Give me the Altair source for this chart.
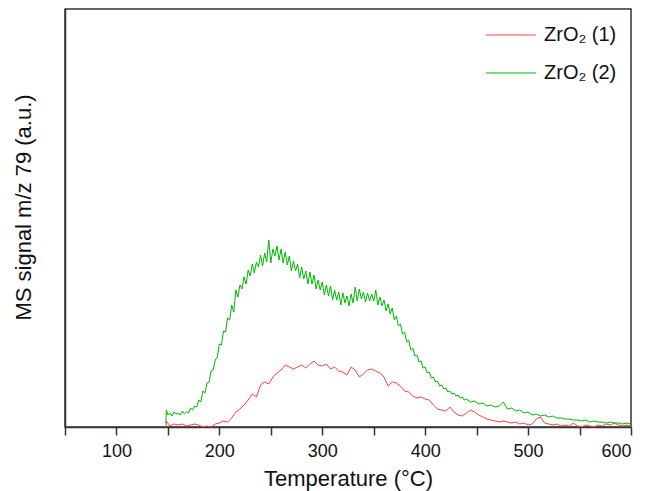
import altair as alt
import pandas as pd

# Temperature (°C) and MS signal (a.u.)
temp_green = [148, 148.5, 150, 152, 154, 156, 158, 160, 162, 164, 166, 168, 170, 172, 174, 176, 178, 180,
              182, 184, 186, 188, 190, 192, 194, 196, 198, 200, 202, 204, 206, 208, 210, 212, 214,
              216, 218, 220, 222, 224, 226, 228, 230, 232, 234, 236, 238, 240, 242, 244, 246, 248,
              250, 252, 254, 256, 258, 260, 262, 264, 266, 268, 270, 272, 274, 276, 278, 280, 282,
              284, 286, 288, 290, 292, 294, 296, 298, 300, 302, 304, 306, 308, 310, 312, 314, 316,
              318, 320, 322, 324, 326, 328, 330, 332, 334, 336, 338, 340, 342, 344, 346, 348, 350,
              352, 354, 356, 358, 360, 362, 364, 366, 368, 370, 372, 374, 376, 378, 380, 382, 384,
              386, 388, 390, 392, 394, 396, 398, 400, 402, 404, 406, 408, 410, 412, 414, 416, 418,
              420, 422, 424, 426, 428, 430, 432, 434, 436, 438, 440, 444, 448, 452, 456, 460, 464,
              468, 472, 476, 480, 484, 488, 492, 496, 500, 504, 508, 512, 516, 520, 524, 528, 532,
              536, 540, 544, 548, 552, 556, 560, 564, 568, 572, 576, 580, 584, 588, 592, 596, 600]
signal_green = [4, 17, 12, 14, 11, 15, 13, 14, 12, 16, 13, 15, 14, 19, 17, 21, 20, 27,
                25, 36, 34, 44, 45, 56, 57, 67, 70, 83, 82, 96, 95, 109, 107, 122, 115,
                137, 130, 142, 138, 150, 143, 157, 151, 163, 154, 165, 160, 172, 161, 174, 165, 187,
                164, 178, 171, 181, 167, 178, 164, 175, 162, 171, 156, 166, 156, 163, 149, 160, 148,
                156, 143, 155, 143, 152, 138, 147, 137, 145, 132, 142, 131, 141, 127, 137, 127, 135,
                122, 134, 124, 131, 121, 133, 124, 140, 126, 138, 128, 135, 125, 134, 126, 133, 126,
                137, 122, 130, 121, 127, 116, 123, 113, 119, 107, 111, 101, 103, 93, 95, 85, 87,
                77, 79, 71, 72, 65, 66, 59, 60, 54, 55, 49, 50, 45, 46, 41, 42, 38,
                39, 35, 36, 33, 34, 31, 32, 29, 30, 27, 28, 25, 26, 23, 24, 21, 22,
                20, 21, 25, 18, 19, 16, 17, 14, 15, 12, 13, 11, 12, 10, 11, 9, 9,
                8, 8, 7, 7, 6, 7, 5, 6, 5, 5, 4, 5, 4, 4, 3, 4, 3]

temp_red = [148, 148.5, 152, 156, 160, 164, 168, 172, 176, 180, 184, 188, 192, 196, 200, 204, 208, 212,
            216, 220, 224, 228, 232, 236, 240, 244, 248, 252, 256, 260, 264, 268, 272, 276, 280,
            284, 288, 292, 296, 300, 304, 308, 312, 316, 320, 324, 328, 332, 336, 340, 344, 348,
            352, 356, 360, 364, 368, 372, 376, 380, 384, 388, 392, 396, 400, 404, 408, 412, 416,
            420, 424, 428, 432, 436, 440, 444, 448, 452, 456, 460, 464, 468, 472, 476, 480, 484,
            488, 492, 496, 500, 504, 508, 512, 516, 520, 524, 528, 532, 536, 540, 544, 548, 552,
            556, 560, 564, 568, 572, 576, 580, 584, 588, 592, 596, 600]
signal_red = [0, 6, 1, 3, 2, 3, 1, 2, 3, 2, 0, 1, 0, 3, 4, 6, 5, 9,
              15, 18, 22, 27, 33, 30, 42, 45, 43, 50, 54, 57, 62, 60, 58, 60, 62,
              59, 63, 66, 62, 61, 63, 58, 60, 56, 55, 52, 60, 57, 50, 53, 57, 58,
              56, 54, 50, 41, 45, 44, 41, 36, 35, 31, 29, 30, 28, 27, 22, 18, 17,
              16, 20, 15, 12, 11, 14, 17, 15, 12, 10, 8, 7, 6, 5, 6, 5, 4,
              5, 3, 4, 2, 3, 8, 10, 4, 3, 2, 3, 1, 2, 1, 4, 1, 0,
              2, 1, 0, 2, 1, 3, 2, 4, 2, 1, 2, 1]

series_names = ["ZrO₂ (1)", "ZrO₂ (2)"]
series_colors = ["#ff4040", "#00b800"]

df = pd.concat([
    pd.DataFrame({"T": temp_red, "S": signal_red, "series": series_names[0]}),
    pd.DataFrame({"T": temp_green, "S": signal_green, "series": series_names[1]}),
])

font = "Liberation Sans"

chart = alt.Chart(df).mark_line(strokeWidth=1).encode(
    x=alt.X("T:Q",
            scale=alt.Scale(domain=[50, 600], nice=False, zero=False),
            axis=alt.Axis(title="Temperature (°C)", values=list(range(50, 601, 50)),
                          labelExpr="datum.value % 100 == 0 ? datum.label : ''",
                          grid=False, tickSize=8, tickColor="#333", domainColor="#333",
                          domainWidth=1.5, tickWidth=1.5,
                          labelFont=font, labelFontSize=18, labelColor="#111", labelPadding=7,
                          titleFont=font, titleFontSize=22, titleFontWeight="normal",
                          titleColor="#111", titlePadding=8)),
    y=alt.Y("S:Q",
            scale=alt.Scale(domain=[0, 418], nice=False),
            axis=alt.Axis(title="MS signal m/z 79 (a.u.)", labels=False, ticks=False, grid=False,
                          domainColor="#333", domainWidth=1.5,
                          titleFont=font, titleFontSize=22, titleFontWeight="normal",
                          titleColor="#111", titlePadding=30, titleY=198)),
    color=alt.Color("series:N",
                    scale=alt.Scale(domain=series_names, range=series_colors),
                    legend=alt.Legend(title=None, orient="none", legendX=420, legendY=0,
                                      symbolType="stroke", symbolSize=2500, symbolStrokeWidth=1.2,
                                      symbolOpacity=1,
                                      labelFont=font, labelFontSize=20, labelColor="#111",
                                      labelOffset=7, rowPadding=2)),
).properties(
    width=566, height=418,
    autosize=alt.AutoSizeParams(type="none"),
    padding={"left": 57, "top": 1, "right": 9, "bottom": 64},
).configure(
    background="white"
).configure_view(
    stroke="#333", strokeWidth=1.5
)

chart.save("out.html", embed_options={"renderer": "svg", "actions": False})
